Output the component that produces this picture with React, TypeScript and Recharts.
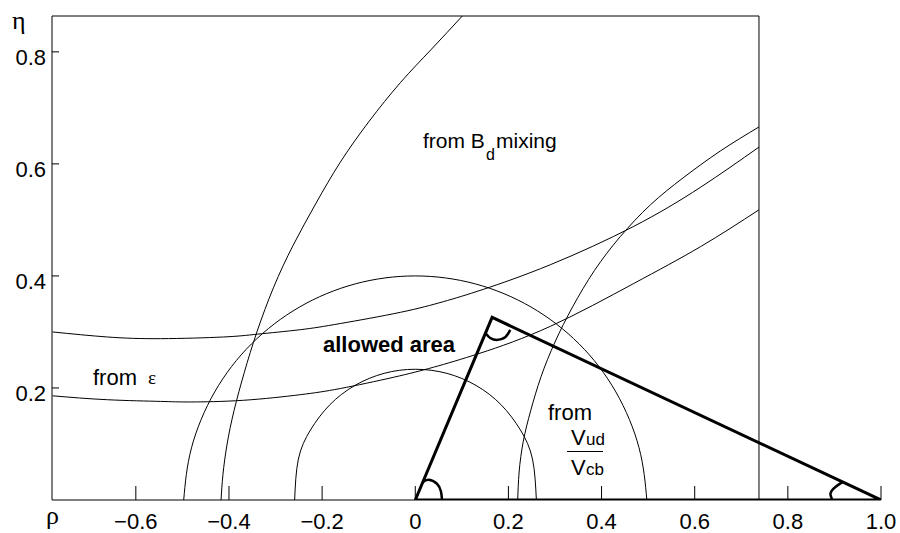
import React from "react";
import { LineChart, Line, XAxis, YAxis, ReferenceLine } from "recharts";

type Pt = { r: number; e: number };
const pts = (a: number[][]): Pt[] => a.map(([r, e]) => ({ r, e }));

const rhoTicks = [-0.6, -0.4, -0.2, 0, 0.2, 0.4, 0.6, 0.8, 1.0];
const etaTicks = [0.2, 0.4, 0.6, 0.8];

// |Vub/Vcb| circles around the origin
const vubInner = pts([
  [-0.259, 0], [-0.251, 0.073], [-0.225, 0.125], [-0.1835, 0.17], [-0.1296, 0.2045],
  [-0.067, 0.2261], [0, 0.2334], [0.0678, 0.2261], [0.1305, 0.2045], [0.1843, 0.17],
  [0.2258, 0.125], [0.2517, 0.073], [0.26, 0],
]);
const vubOuter = pts([
  [-0.4972, 0], [-0.4805, 0.0931], [-0.4307, 0.1929], [-0.3517, 0.2787], [-0.2487, 0.3444],
  [-0.1288, 0.3858], [0, 0.4], [0.1288, 0.3858], [0.2487, 0.3444], [0.3517, 0.2787],
  [0.4307, 0.1929], [0.4805, 0.0931], [0.4972, 0],
]);

// B_d mixing arcs around (1, 0)
const bdOuter = pts([
  [-0.417, 0], [-0.413, 0.045], [-0.404, 0.1], [-0.389, 0.16], [-0.367, 0.228],
  [-0.34, 0.3], [-0.304, 0.38], [-0.262, 0.455], [-0.213, 0.53], [-0.161, 0.603],
  [-0.1, 0.675], [-0.032, 0.745], [0.035, 0.805], [0.101, 0.864],
]);
const bdInner = pts([
  [0.22, 0], [0.223, 0.05], [0.232, 0.105], [0.248, 0.16], [0.27, 0.22],
  [0.3, 0.282], [0.338, 0.345], [0.385, 0.41], [0.44, 0.47], [0.505, 0.527],
  [0.575, 0.575], [0.655, 0.623], [0.738, 0.666],
]);

// epsilon hyperbolas
const epsUpper = pts([
  [-0.779, 0.3], [-0.661, 0.291], [-0.547, 0.288], [-0.412, 0.291], [-0.339, 0.296],
  [-0.247, 0.304], [-0.161, 0.315], [-0.032, 0.335], [0.06, 0.354], [0.146, 0.376],
  [0.29, 0.42], [0.468, 0.488], [0.612, 0.558], [0.738, 0.63],
]);
const epsLower = pts([
  [-0.779, 0.186], [-0.661, 0.179], [-0.547, 0.176], [-0.483, 0.175], [-0.369, 0.178],
  [-0.247, 0.188], [-0.161, 0.199], [-0.047, 0.219], [0.039, 0.237], [0.139, 0.262],
  [0.29, 0.31], [0.468, 0.386], [0.612, 0.452], [0.738, 0.518],
]);

// unitarity triangle and its angle marks
const triangle = pts([[0, 0], [0.165, 0.326], [1, 0], [0, 0]]);
const angleOrigin = pts([[0.0155, 0.031], [0.028, 0.036], [0.0466, 0.029], [0.0552, 0.015], [0.0573, 0.001]]);
const angleApex = pts([[0.1524, 0.2964], [0.1609, 0.2893], [0.1753, 0.2857], [0.1931, 0.2905], [0.2039, 0.3036]]);
const angleOne = pts([[0.917, 0.032], [0.9034, 0.0241], [0.8938, 0.0161], [0.8916, 0.0089], [0.8948, 0.0018]]);

const frameRight = 0.738;
const frameTop = 0.864;

const font = "'Liberation Sans', Arial, Helvetica, sans-serif";
const serif = "'Liberation Serif', 'DejaVu Serif', serif";

const fmt = (v: number) => (v === 0 ? "0" : v.toFixed(1).replace("-", "\u2212"));

const YTick = ({ x, y, payload }: any) => (
  <text x={x} y={y + 13} textAnchor="end" fontSize={22} fontFamily={font} fill="#000">
    {fmt(payload.value)}
  </text>
);

const thin = { stroke: "#000", strokeWidth: 1, dot: false, activeDot: false, isAnimationActive: false } as const;

export default function App() {
  return (
    <div style={{ position: "absolute", left: 0, top: 0, width: 900, height: 533, background: "#fff" }}>
      <LineChart width={900} height={533} margin={{ top: 16, right: 19, bottom: 3, left: 8 }}>
        <XAxis
          type="number"
          dataKey="r"
          domain={[-0.78, 1]}
          allowDataOverflow
          ticks={rhoTicks}
          interval={0}
          tickFormatter={fmt}
          tickSize={-14}
          tickMargin={27}
          height={30}
          stroke="#000"
          tick={{ fontSize: 22, fill: "#000", fontFamily: font }}
        />
        <YAxis
          type="number"
          dataKey="e"
          domain={[0, frameTop]}
          allowDataOverflow
          ticks={etaTicks}
          interval={0}
          tickSize={-7}
          tickMargin={13}
          width={44}
          stroke="#000"
          tick={<YTick />}
        />
        <ReferenceLine
          segment={[{ x: -0.78, y: frameTop }, { x: frameRight, y: frameTop }]}
          stroke="#000"
          strokeWidth={1}
        />
        <ReferenceLine x={frameRight} stroke="#000" strokeWidth={1} />
        <Line data={vubInner} dataKey="e" type="natural" {...thin} />
        <Line data={vubOuter} dataKey="e" type="natural" {...thin} />
        <Line data={bdOuter} dataKey="e" type="natural" {...thin} />
        <Line data={bdInner} dataKey="e" type="natural" {...thin} />
        <Line data={epsUpper} dataKey="e" type="natural" {...thin} />
        <Line data={epsLower} dataKey="e" type="natural" {...thin} />
        <Line data={triangle} dataKey="e" type="linear" {...thin} strokeWidth={3} strokeLinejoin="miter" />
        <Line data={angleOrigin} dataKey="e" type="natural" {...thin} strokeWidth={2.5} />
        <Line data={angleApex} dataKey="e" type="natural" {...thin} strokeWidth={2.5} />
        <Line data={angleOne} dataKey="e" type="natural" {...thin} strokeWidth={2.5} />
      </LineChart>
      <svg width={900} height={533} style={{ position: "absolute", left: 0, top: 0, pointerEvents: "none" }}>
        <g fill="#000" fontFamily={font}>
          <text x={12} y={29} fontSize={26} fontFamily={serif}>η</text>
          <text x={46} y={524} fontSize={26} fontFamily={serif}>ρ</text>

          <text x={423} y={148} fontSize={21}>from B</text>
          <text x={486} y={160} fontSize={16}>d</text>
          <text x={496} y={148} fontSize={21}>mixing</text>

          <text x={323} y={352} fontSize={22} fontWeight="bold">allowed area</text>

          <text x={93} y={385} fontSize={22}>from</text>
          <text x={148} y={384} fontSize={19} fontFamily={serif}>ε</text>

          <text x={548} y={420} fontSize={22}>from</text>
          <text x={571} y={445} fontSize={22}>V</text>
          <text x={586} y={445} fontSize={17}>ud</text>
          <line x1={567} y1={451.5} x2={603} y2={451.5} stroke="#000" strokeWidth={1} />
          <text x={571} y={475} fontSize={22}>V</text>
          <text x={586} y={475} fontSize={17}>cb</text>
        </g>
      </svg>
    </div>
  );
}
